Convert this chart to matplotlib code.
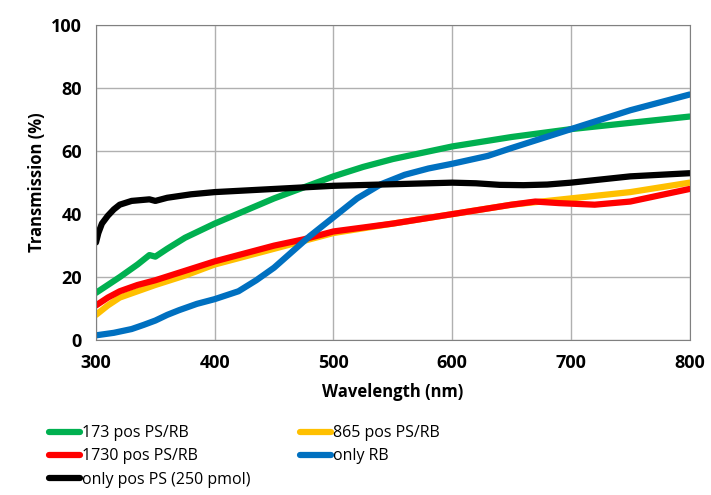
import matplotlib.pyplot as plt

plt.rcParams["font.family"] = ["Open Sans", "DejaVu Sans"]

# wavelength (nm) / transmission (%)
wl_green = [300, 310, 320, 335, 345, 350, 360, 375, 400, 425, 450, 475, 500, 525, 550, 575, 600, 650, 700, 750, 800]
t_green = [15, 17.5, 20, 24, 27, 26.5, 29, 32.5, 37, 41, 45, 48.5, 52, 55, 57.5, 59.5, 61.5, 64.5, 67, 69, 71]

wl_orange = [300, 310, 320, 335, 350, 375, 400, 425, 450, 475, 500, 550, 600, 650, 700, 750, 800]
t_orange = [8, 11, 13.5, 15.5, 17.5, 20.5, 24, 26.5, 29, 31.5, 34, 37, 40, 43, 45, 47, 50]

wl_red = [300, 310, 320, 335, 350, 375, 400, 425, 450, 475, 500, 550, 600, 650, 670, 690, 720, 750, 775, 800]
t_red = [11, 13.5, 15.5, 17.5, 19, 22, 25, 27.5, 30, 32, 34.5, 37, 40, 43, 44, 43.5, 43, 44, 46, 48]

wl_blue = [300, 315, 330, 340, 350, 360, 370, 385, 400, 420, 435, 450, 465, 480, 500, 520, 540, 560, 580, 600, 630, 650, 675, 700, 750, 800]
t_blue = [1.5, 2.3, 3.5, 4.8, 6.2, 8, 9.5, 11.5, 13, 15.5, 19, 23, 28, 33, 39, 45, 49.5, 52.5, 54.5, 56, 58.5, 61, 64, 67, 73, 78]

wl_black = [300, 302, 305, 310, 315, 320, 330, 345, 350, 360, 380, 400, 450, 500, 550, 600, 620, 640, 660, 680, 700, 750, 800]
t_black = [31, 34, 37, 39.5, 41.5, 43, 44.2, 44.7, 44.2, 45.2, 46.3, 47, 48, 49, 49.5, 50, 49.8, 49.3, 49.2, 49.4, 50, 52, 53]

fig = plt.figure(figsize=(7.11, 4.95), dpi=100)
ax = fig.add_axes([0.135, 0.313, 0.835, 0.636])

kw = dict(lw=4.5, solid_joinstyle="round", solid_capstyle="round")
l1, = ax.plot(wl_green, t_green, color="#00b050", label="173 pos PS/RB", **kw)
l2, = ax.plot(wl_orange, t_orange, color="#ffc000", label="865 pos PS/RB", **kw)
l3, = ax.plot(wl_red, t_red, color="#ff0000", label="1730 pos PS/RB", **kw)
l4, = ax.plot(wl_blue, t_blue, color="#0070c0", label="only RB", **kw)
l5, = ax.plot(wl_black, t_black, color="black", label="only pos PS (250 pmol)", **kw)

ax.set_xlim(300, 800)
ax.set_ylim(0, 100)
ax.set_xticks(range(300, 801, 100))
ax.set_yticks(range(0, 101, 20))
ax.grid(True, color="#b0b0b0", lw=1)
ax.set_axisbelow(True)
for s in ax.spines.values():
    s.set_color("#808080")
ax.tick_params(length=0, labelsize=13, pad=10)
for lab in ax.get_xticklabels() + ax.get_yticklabels():
    lab.set_fontweight("bold")
ax.set_xlabel("Wavelength (nm)", fontsize=12, fontweight="bold", labelpad=8)
ax.set_ylabel("Transmission (%)", fontsize=12, fontweight="bold")

order = [l1, l3, l5, l2, l4]
fig.legend(order, [l.get_label() for l in order],
           ncol=2, loc="upper left", bbox_to_anchor=(0.058, 0.157), frameon=False,
           fontsize=11.5, handlelength=1.95, handletextpad=0.1, columnspacing=3.1,
           labelspacing=0.45, borderpad=0)

fig.savefig("out.png", dpi=100)
